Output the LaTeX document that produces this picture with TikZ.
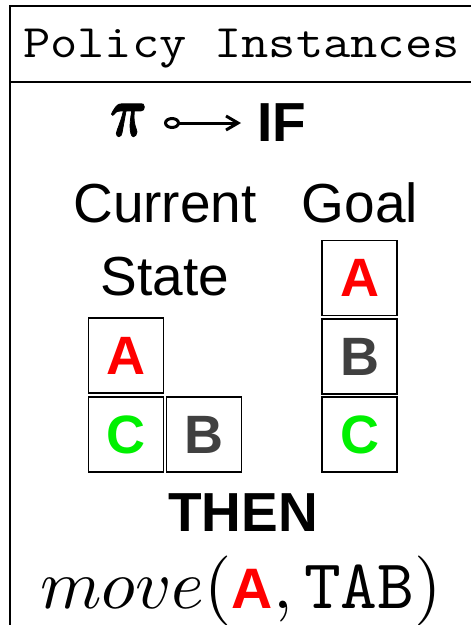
\documentclass[tikz,border=0pt]{standalone}
\usepackage{fontspec}
\usepackage{graphicx}
\newfontfamily\sansfont{Liberation Sans}
\newfontfamily\greekfont{latinmodern-math.otf}[FakeBold=1.5]
\usetikzlibrary{arrows.meta}
\definecolor{blkred}{HTML}{FF0000}
\definecolor{blkgreen}{HTML}{00F000}
\definecolor{blkgray}{HTML}{404040}
\tikzset{
  frameline/.style={line width=1.8pt},
  blockbox/.style={draw, line width=1.8pt, minimum size=75pt, inner sep=0pt,
    font=\sansfont\bfseries\fontsize{54}{60}\selectfont},
  label/.style={inner sep=0pt, anchor=base, font=\sansfont\fontsize{55}{60}\selectfont},
  heading/.style={inner sep=0pt, anchor=base, font=\sansfont\bfseries\fontsize{55}{60}\selectfont},
}
\begin{document}
\begin{tikzpicture}[x=1pt, y=-1pt]
  \useasboundingbox (0,0) rectangle (471,625);
  % frame with title row
  \draw[frameline] (10,630) -- (10,6) -- (475,6);
  \draw[frameline] (10,82) -- (475,82);
  \node[inner sep=0pt, anchor=base] (title) at (241.5,57)
    {\scalebox{1.14}[1]{\ttfamily\fontsize{46.5}{50}\selectfont Policy Instances}};

  % policy head: pi, arrow, IF
  \node[inner sep=0pt, anchor=base] (pi) at (127.5,136)
    {\resizebox{35pt}{32pt}{\greekfont 𝝅}};
  \node[heading] (if) at (282,141) {IF};
  \coordinate (arrstart) at (164,123);
  \coordinate (arrend) at (241,123);
  \draw[line width=3pt, {Circle[open,length=16pt,width=12pt]}-{Straight Barb[length=12pt,width=14pt]}]
    (arrstart) -- (arrend);

  % column labels
  \node[label] (current) at (165,222) {Current};
  \node[label] (state) at (165,295) {State};
  \node[label] (goal) at (360,222) {Goal};

  % current state blocks
  \node[blockbox, text=blkred] (ca) at (126,355.5) {A};
  \node[blockbox, text=blkgreen] (cc) at (126,434.5) {C};
  \node[blockbox, text=blkgray] (cb) at (204,434.5) {B};

  % goal blocks
  \node[blockbox, text=blkred] (ga) at (359.5,278) {A};
  \node[blockbox, text=blkgray] (gb) at (359.5,356.5) {B};
  \node[blockbox, text=blkgreen] (gc) at (359.5,434.5) {C};

  % action
  \node[heading] (then) at (243,531) {THEN};
  \node[inner sep=0pt, anchor=base] (act) at (241,608)
    {\scalebox{7}{$move(\hbox{\sansfont\bfseries\fontsize{8.15}{9}\selectfont\color{blkred}A}, \mathtt{TAB})$}};
\end{tikzpicture}
\end{document}
